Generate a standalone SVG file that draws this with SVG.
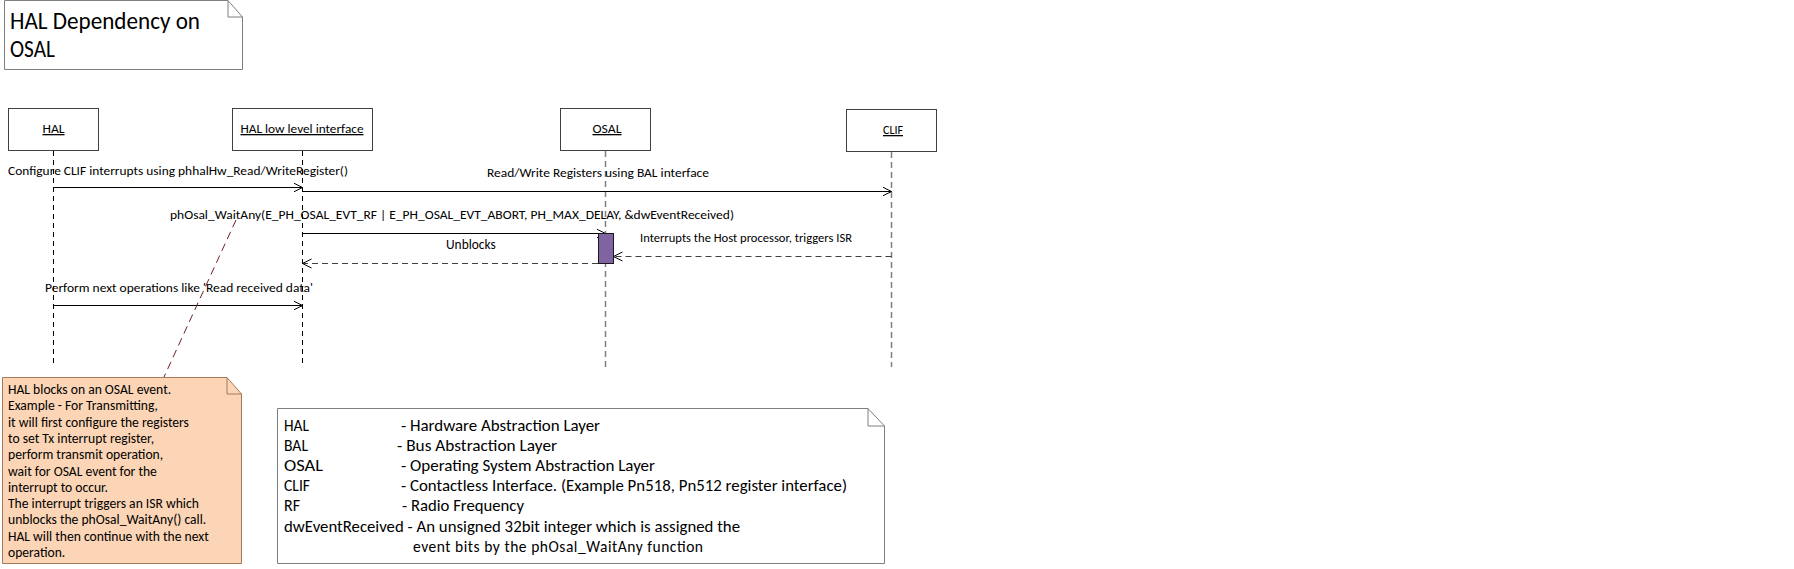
<svg xmlns="http://www.w3.org/2000/svg" width="1794" height="569" viewBox="0 0 1794 569">
<defs>
<marker id="open" markerUnits="userSpaceOnUse" markerWidth="12" markerHeight="12" refX="9" refY="5" orient="auto"><path d="M0,0.5 L9,5 L0,9.5" fill="none" stroke="#000" stroke-width="1"/></marker>
</defs>
<style>
text{font-family:Carlito,Calibri,Lato,"Open Sans",sans-serif;fill:#000}
.msg{font-size:12.6px}
.hdr{font-size:13px;text-decoration:underline;text-anchor:middle}
.note{font-size:13.6px}
.leg{font-size:15.5px}
.box{fill:#fff;stroke:#404040;stroke-width:1}
.ll-dark{stroke:#000;stroke-dasharray:5 4;stroke-width:1}
.ll-gray{stroke:#7f7f7f;stroke-dasharray:6 4;stroke-width:1.5}
.call{stroke:#000;stroke-width:1;fill:none;marker-end:url(#open)}
.ret{stroke:#404040;stroke-width:1;stroke-dasharray:6 4;fill:none;marker-end:url(#open)}
</style>
<rect width="1794" height="569" fill="#fff"/>

<g id="title">
<path d="M4.5,0.5 H228 L242.5,17 V69.5 H4.5 Z" fill="#fff" stroke="#7f7f7f"/>
<path d="M228,0.5 V17 H242.5" fill="none" stroke="#7f7f7f"/>
<text x="10" y="29" style="font-size:23.5px" textLength="190" lengthAdjust="spacingAndGlyphs">HAL Dependency on</text>
<text x="10" y="57" style="font-size:23.5px" textLength="45" lengthAdjust="spacingAndGlyphs">OSAL</text>
</g>

<g id="lifeline-HAL">
<rect class="box" x="8.5" y="108.5" width="90" height="42"/>
<text class="hdr" x="53.5" y="133" textLength="22" lengthAdjust="spacingAndGlyphs">HAL</text>
<line class="ll-dark" x1="53.5" y1="151" x2="53.5" y2="367"/>
</g>
<g id="lifeline-HLL">
<rect class="box" x="232.5" y="108.5" width="140" height="42"/>
<text class="hdr" x="302" y="133" textLength="123" lengthAdjust="spacingAndGlyphs">HAL low level interface</text>
<line class="ll-dark" x1="302.5" y1="151" x2="302.5" y2="367"/>
</g>
<g id="lifeline-OSAL">
<rect class="box" x="560.5" y="108.5" width="90" height="42"/>
<text class="hdr" x="607" y="133" textLength="29" lengthAdjust="spacingAndGlyphs">OSAL</text>
<line class="ll-gray" x1="605.5" y1="151" x2="605.5" y2="367"/>
</g>
<g id="lifeline-CLIF">
<rect class="box" x="846.5" y="109.5" width="90" height="42"/>
<text class="hdr" x="893" y="134" textLength="20" lengthAdjust="spacingAndGlyphs">CLIF</text>
<line class="ll-gray" x1="891.5" y1="152" x2="891.5" y2="367"/>
</g>

<g id="connectors">
<line class="call" x1="53.5" y1="187.5" x2="302.5" y2="187.5"/>
<text class="msg" x="8" y="175" textLength="340" lengthAdjust="spacingAndGlyphs">Configure CLIF interrupts using phhalHw_Read/WriteRegister()</text>
<line class="call" x1="302.5" y1="191.5" x2="891.5" y2="191.5"/>
<text class="msg" x="487" y="177" textLength="222" lengthAdjust="spacingAndGlyphs">Read/Write Registers using BAL interface</text>
<line class="call" x1="302.5" y1="233.5" x2="605.5" y2="233.5"/>
<text class="msg" x="170" y="219" textLength="564" lengthAdjust="spacingAndGlyphs">phOsal_WaitAny(E_PH_OSAL_EVT_RF | E_PH_OSAL_EVT_ABORT, PH_MAX_DELAY, &amp;dwEventReceived)</text>
<line class="ret" x1="598" y1="263.5" x2="302.5" y2="263.5"/>
<text class="msg" x="446" y="249" style="font-size:13.4px">Unblocks</text>
<line class="ret" x1="891.5" y1="256.5" x2="613.5" y2="256.5"/>
<text class="msg" x="640" y="242" textLength="212" lengthAdjust="spacingAndGlyphs">Interrupts the Host processor, triggers ISR</text>
<line class="call" x1="53.5" y1="305.5" x2="302.5" y2="305.5"/>
<text class="msg" x="45" y="292" textLength="268" lengthAdjust="spacingAndGlyphs">Perform next operations like 'Read received data'</text>
<line x1="236" y1="220" x2="164" y2="377" stroke="#6e1f1f" stroke-width="1" stroke-dasharray="8 5"/>
</g>

<g id="activation-OSAL">
<rect x="598.5" y="233.5" width="15" height="30" fill="#8064a2" stroke="#1a1a1a"/>
</g>

<g id="note">
<path d="M2.5,377.5 H227 L241.5,394 V563.5 H2.5 Z" fill="#fbd5b5" stroke="#a57a5a"/>
<path d="M227,377.5 V394 H241.5" fill="none" stroke="#a57a5a"/>
<text class="note" x="8" y="394">HAL blocks on an OSAL event.</text>
<text class="note" x="8" y="410.3">Example - For Transmitting,</text>
<text class="note" x="8" y="426.6">it will first configure the registers</text>
<text class="note" x="8" y="442.9">to set Tx interrupt register,</text>
<text class="note" x="8" y="459.2">perform transmit operation,</text>
<text class="note" x="8" y="475.5">wait for OSAL event for the</text>
<text class="note" x="8" y="491.8">interrupt to occur.</text>
<text class="note" x="8" y="508.1">The interrupt triggers an ISR which</text>
<text class="note" x="8" y="524.4">unblocks the phOsal_WaitAny() call.</text>
<text class="note" x="8" y="540.7">HAL will then continue with the next</text>
<text class="note" x="8" y="557">operation.</text>
</g>

<g id="legend">
<path d="M277.5,408.5 H868 L884.5,426 V563.5 H277.5 Z" fill="#fff" stroke="#7f7f7f"/>
<path d="M868,408.5 V426 H884.5" fill="none" stroke="#7f7f7f"/>
<text class="leg" x="284" y="431" textLength="25" lengthAdjust="spacingAndGlyphs">HAL</text>
<text class="leg" x="401" y="431" textLength="199" lengthAdjust="spacingAndGlyphs">- Hardware Abstraction Layer</text>
<text class="leg" x="284" y="451.1" textLength="24" lengthAdjust="spacingAndGlyphs">BAL</text>
<text class="leg" x="397" y="451.1" textLength="160" lengthAdjust="spacingAndGlyphs">- Bus Abstraction Layer</text>
<text class="leg" x="284" y="471.2" textLength="39" lengthAdjust="spacingAndGlyphs">OSAL</text>
<text class="leg" x="401" y="471.2" textLength="254" lengthAdjust="spacingAndGlyphs">- Operating System Abstraction Layer</text>
<text class="leg" x="284" y="491.3" textLength="26" lengthAdjust="spacingAndGlyphs">CLIF</text>
<text class="leg" x="401" y="491.3" textLength="446" lengthAdjust="spacingAndGlyphs">- Contactless Interface. (Example Pn518, Pn512 register interface)</text>
<text class="leg" x="284" y="511.4" textLength="16" lengthAdjust="spacingAndGlyphs">RF</text>
<text class="leg" x="402" y="511.4" textLength="122" lengthAdjust="spacingAndGlyphs">- Radio Frequency</text>
<text class="leg" x="284" y="531.5" textLength="456" lengthAdjust="spacingAndGlyphs">dwEventReceived - An unsigned 32bit integer which is assigned the</text>
<text class="leg" x="413" y="551.6" textLength="290" lengthAdjust="spacing">event bits by the phOsal_WaitAny function</text>
</g>
</svg>
